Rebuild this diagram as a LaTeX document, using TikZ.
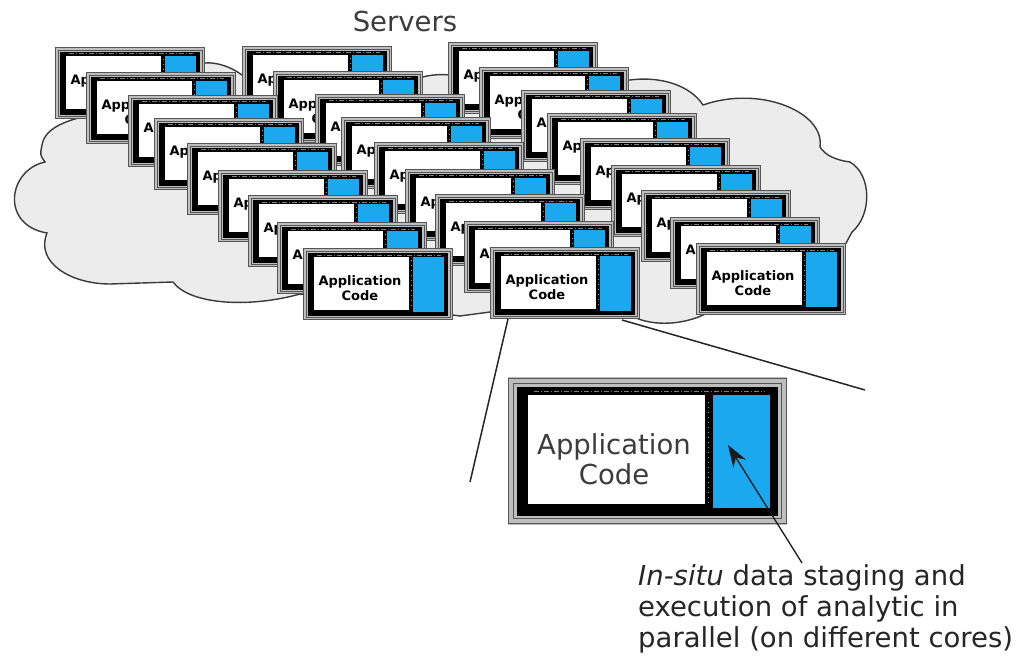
\documentclass[tikz,border=0pt]{standalone}
\usepackage{fontspec}
\setmainfont{DejaVu Sans}
\usetikzlibrary{arrows.meta}
\definecolor{srvblue}{HTML}{1AA8EE}
\definecolor{cloudfill}{HTML}{ECECEC}
\definecolor{cloudline}{HTML}{3A3A3A}
\definecolor{framegray}{HTML}{BEBEBE}
\definecolor{frameline}{HTML}{555555}
\definecolor{txtgray}{HTML}{3C3C3C}
\tikzset{
  smalltxt/.style={font=\bfseries\fontsize{13}{15}\selectfont, align=center, inner sep=0pt, text=black},
  bigtxt/.style={font=\fontsize{27.5}{30}\selectfont, align=center, inner sep=0pt, text=txtgray},
  cloudshape/.style={fill=cloudfill, draw=cloudline, line width=1.4pt},
  zoomline/.style={draw=black!85, line width=1.5pt},
  pointer/.style={draw=black!90, line width=1.3pt, -{Stealth[length=22pt,width=15pt]}},
  labeltxt/.style={font=\fontsize{27.5}{31}\selectfont, inner sep=0pt},
}
\newcommand\srvbox[4][smalltxt]{%
  \begin{scope}[shift={(#2,#3)}]
    \fill[framegray] (0,0) rectangle (150,72);
    \draw[frameline, line width=1pt] (0.5,0.5) rectangle (149.5,71.5);
    \draw[frameline, line width=0.8pt] (3,3) rectangle (147,69);
    \fill[black] (5,5) rectangle (145,68);
    \fill[white] (11,9) rectangle (106,62);
    \fill[srvblue] (110,9) rectangle (141,64);
    \draw[white!60!black, dash pattern=on 1pt off 4pt, line width=0.8pt] (108,12) -- (108,62);
    \draw[gray, dash pattern=on 5pt off 2pt on 1pt off 2pt, line width=1pt] (14,7) -- (138,7);
    \node[#1] (#4) at (57,40) {Application\\Code};
  \end{scope}}
\begin{document}
\begin{tikzpicture}[x=1pt,y=-1pt]
  \useasboundingbox (0,0) rectangle (1019,663);
  \fill[white] (0,0) rectangle (1019,663);
  % cloud
  \draw[cloudshape] (100,113)
    .. controls (75,118) and (45,125) .. (42,145)
    .. controls (40,155) .. (45,162)
    .. controls (8,170) and (0,225) .. (47,233)
    .. controls (35,262) and (70,284) .. (110,284)
    -- (173,282)
    .. controls (190,305) and (250,308) .. (300,294)
    -- (460,316)
    .. controls (475,314) .. (490,312)
    -- (636,318)
    .. controls (660,328) and (690,322) .. (705,314)
    -- (845,245) -- (852,232)
    .. controls (872,215) and (872,175) .. (850,162)
    .. controls (835,160) and (825,155) .. (820,147)
    .. controls (825,112) and (760,85) .. (703,105)
    .. controls (690,85) and (660,76) .. (630,80)
    -- (450,75)
    .. controls (440,74) and (430,75) .. (423,77)
    -- (242,75)
    .. controls (230,66) and (215,62) .. (205,63)
    -- cycle;
  % stacks of servers
  \foreach \dx/\dy [count=\k] in {0/0,31/25,73/48,99/71,132/96,163/123,193/148,222/175,248/201}{
    \foreach \sx/\sy [count=\s] in {55/47,242/46,448/42}{
      \srvbox{\sx+\dx}{\sy+\dy}{app-\s-\k}
    }
  }
  \node[labeltxt, text=txtgray] (servers) at (405,21) {Servers};
  % zoom lines
  \coordinate (zl1) at (508,319);
  \coordinate (zl2) at (470,482);
  \coordinate (zr1) at (622,320);
  \coordinate (zr2) at (865,390);
  \draw[zoomline] (zl1) -- (zl2);
  \draw[zoomline] (zr1) -- (zr2);
  % enlarged server
  \begin{scope}[shift={(508,377)}, xscale=1.86, yscale=2.05]
    \srvbox[bigtxt]{0}{0}{bigcode}
  \end{scope}
  % caption and pointer
  \node[labeltxt, anchor=north west, align=left, text=black!85] (caption) at (638,564)
    {\textit{In-situ} data staging and\\execution of analytic in\\parallel (on different cores)};
  \coordinate (arrtail) at (802,563);
  \coordinate (arrtip) at (728,445);
  \draw[pointer] (arrtail) -- (arrtip);
\end{tikzpicture}
\end{document}
